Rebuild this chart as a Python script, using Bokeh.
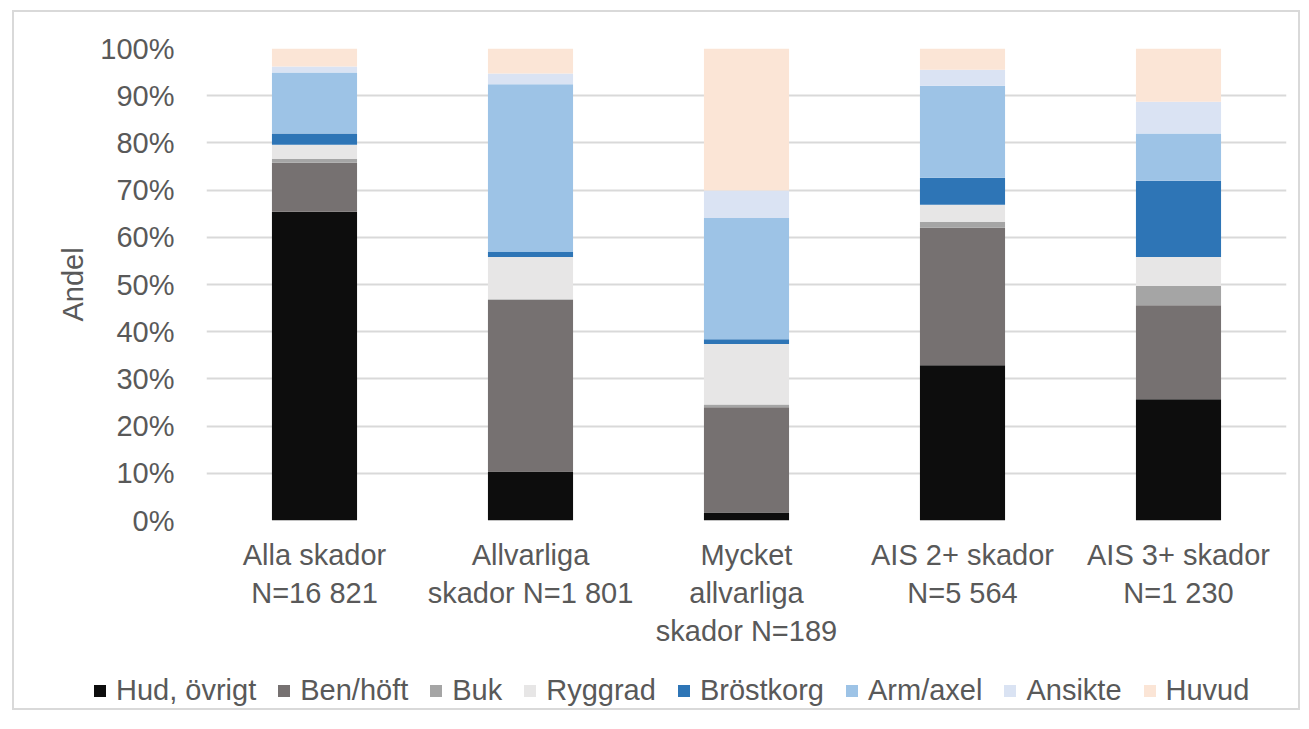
from bokeh.plotting import figure
from bokeh.layouts import column, row
from bokeh.models import (FactorRange, Range1d, FixedTicker, PrintfTickFormatter,
                          Legend, LegendItem, ColumnDataSource)
from bokeh.embed import file_html
from bokeh.resources import INLINE

categories = ["Alla skador\nN=16 821", "Allvarliga\nskador N=1 801",
              "Mycket\nallvarliga\nskador N=189", "AIS 2+ skador\nN=5 564",
              "AIS 3+ skador\nN=1 230"]
series = ["Hud, övrigt", "Ben/höft", "Buk", "Ryggrad", "Bröstkorg",
          "Arm/axel", "Ansikte", "Huvud"]
hud = [65.4, 10.4, 1.7, 32.9, 25.7]
ben = [10.4, 36.3, 22.3, 29.1, 19.9]
buk = [0.8, 0.2, 0.6, 1.3, 4.1]
rygg = [3.0, 8.9, 12.8, 3.6, 6.1]
brost = [2.4, 1.1, 1.0, 5.7, 16.2]
arm = [12.9, 35.5, 25.7, 19.5, 10.0]
ansikte = [1.3, 2.3, 5.8, 3.4, 6.7]
huvud = [3.8, 5.3, 30.1, 4.5, 11.3]
y_ticks = [0, 10, 20, 30, 40, 50, 60, 70, 80, 90, 100]

colors = ["#0d0d0d", "#767171", "#a5a5a5", "#e7e6e6", "#2e75b6",
          "#9dc3e6", "#dae3f3", "#fbe5d6"]
keys = ["hud", "ben", "buk", "rygg", "brost", "arm", "ansikte", "huvud"]

source = ColumnDataSource(dict(cat=categories, hud=hud, ben=ben, buk=buk, rygg=rygg,
                               brost=brost, arm=arm, ansikte=ansikte, huvud=huvud))

FONT = "Liberation Sans"
TXT = "#595959"
FS = "29px"

p = figure(x_range=FactorRange(*categories, range_padding=0),
           y_range=Range1d(0, 100), width=1284, height=638,
           output_backend="svg", toolbar_location=None,
           min_border_left=192, min_border_top=36, min_border_right=12,
           min_border_bottom=121)
p.outline_line_color = None

rs = p.vbar_stack(keys, x="cat", width=0.394, color=colors, line_color=None,
                  source=source)

p.xgrid.grid_line_color = None
p.ygrid.grid_line_color = "#d9d9d9"
p.ygrid.grid_line_width = 2
p.ygrid.ticker = FixedTicker(ticks=y_ticks)

p.yaxis.ticker = FixedTicker(ticks=y_ticks)
p.yaxis.formatter = PrintfTickFormatter(format="%d%%")
p.yaxis.axis_line_color = None
p.yaxis.major_tick_line_color = None
p.yaxis.minor_tick_line_color = None
p.yaxis.major_label_standoff = 26
p.yaxis.axis_label = "Andel"
p.yaxis.axis_label_standoff = 8
p.yaxis.axis_label_text_font_style = "normal"

p.xaxis.axis_line_color = None
p.xaxis.major_tick_line_color = None
p.xaxis.minor_tick_line_color = None
p.xaxis.major_label_standoff = 12

for ax in (p.xaxis[0], p.yaxis[0]):
    ax.major_label_text_font = FONT
    ax.major_label_text_font_size = FS
    ax.major_label_text_color = TXT
    ax.axis_label_text_font = FONT
    ax.axis_label_text_font_size = FS
    ax.axis_label_text_color = TXT

# legend strip below the chart (bars there lie outside its visible y range)
lg = figure(x_range=FactorRange(*categories, range_padding=0),
            y_range=Range1d(1000, 1001), width=1284, height=58,
            output_backend="svg", toolbar_location=None,
            min_border_left=0, min_border_right=0, min_border_top=0,
            min_border_bottom=0)
lg.axis.visible = False
lg.grid.grid_line_color = None
lg.outline_line_color = None
lrs = lg.vbar_stack(keys, x="cat", width=0.394, color=colors, line_color=None,
                    source=source)
items = [LegendItem(label=s, renderers=[r]) for s, r in zip(series, lrs)]
legend = Legend(items=items, orientation="horizontal", location=(78, 1),
                label_text_font=FONT, label_text_font_size=FS,
                label_text_color=TXT, glyph_width=15, glyph_height=15,
                label_standoff=9, spacing=20, padding=0, margin=0,
                border_line_color=None, background_fill_alpha=0)
lg.add_layout(legend, "center")

layout = column(p, row(lg), spacing=0)
layout.styles = {"margin-left": "12px", "margin-top": "10px",
                 "border": "2px solid #d9d9d9"}

open("out.html", "w").write(file_html(layout, INLINE))
